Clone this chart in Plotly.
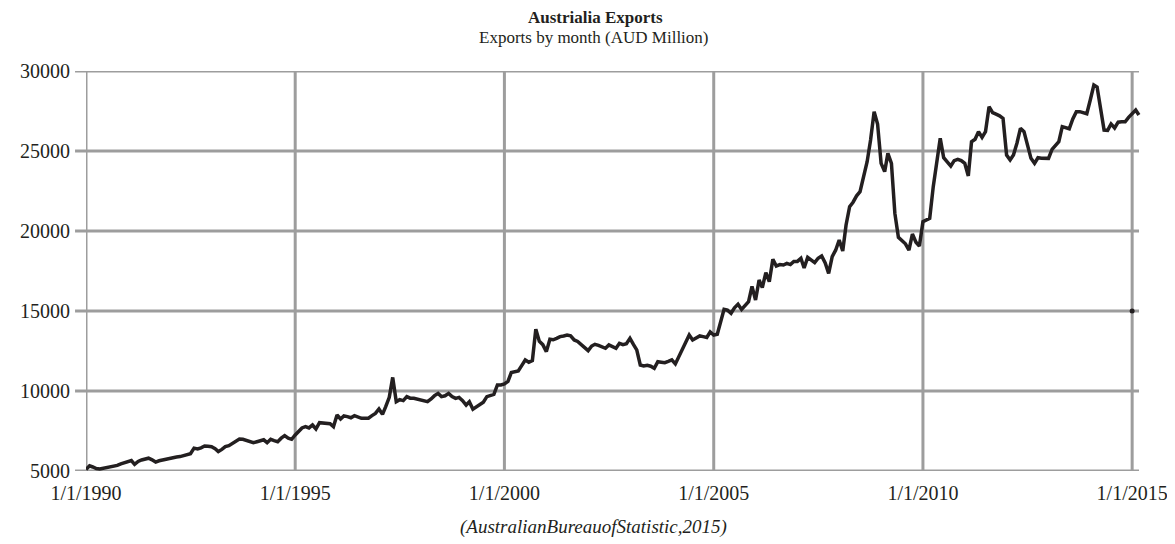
import plotly.graph_objects as go
import pandas as pd

# Monthly exports (AUD Million), Jan 1990 .. Mar 2015
y1990 = [5100, 5320, 5250, 5150, 5130, 5180, 5220, 5260, 5280, 5350, 5450, 5520]
y1991 = [5600, 5650, 5420, 5600, 5690, 5720, 5800, 5700, 5560, 5640, 5700, 5750]
y1992 = [5800, 5850, 5880, 5900, 5950, 6000, 6080, 6430, 6380, 6450, 6560, 6540]
y1993 = [6520, 6400, 6220, 6350, 6520, 6580, 6700, 6850, 7000, 6980, 6900, 6800]
y1994 = [6770, 6830, 6880, 6950, 6770, 6980, 6900, 6830, 7050, 7210, 7050, 6980]
y1995 = [7250, 7450, 7690, 7770, 7690, 7875, 7625, 8020, 8000, 7960, 7960, 7770]
y1996 = [8500, 8250, 8440, 8400, 8330, 8460, 8350, 8290, 8290, 8300, 8460, 8600]
y1997 = [8880, 8540, 9020, 9600, 10850, 9330, 9460, 9400, 9650, 9550, 9540, 9500]
y1998 = [9460, 9400, 9330, 9500, 9710, 9850, 9650, 9700, 9850, 9650, 9540, 9600]
y1999 = [9400, 9125, 9330, 8860, 9000, 9125, 9300, 9650, 9700, 9790, 10375, 10375]
y2000 = [10440, 10600, 11150, 11200, 11250, 11600, 11940, 11800, 11900, 13860, 13100, 12900]
y2001 = [12460, 13230, 13200, 13290, 13400, 13440, 13500, 13450, 13190, 13100, 12900, 12700]
y2002 = [12520, 12810, 12920, 12850, 12750, 12670, 12880, 12800, 12670, 12980, 12900, 12950]
y2003 = [13290, 12900, 12570, 11625, 11560, 11600, 11550, 11420, 11830, 11800, 11770, 11850]
y2004 = [11940, 11690, 12100, 12600, 12980, 13500, 13190, 13300, 13440, 13400, 13350, 13690]
y2005 = [13500, 13550, 14200, 15100, 15050, 14860, 15200, 15420, 15100, 15300, 15580, 16540]
y2006 = [15690, 16940, 16460, 17400, 16830, 18230, 17810, 17900, 17875, 17980, 17900, 18100]
y2007 = [18100, 18290, 17690, 18350, 18200, 18020, 18300, 18440, 18000, 17350, 18400, 18800]
y2008 = [19440, 18750, 20375, 21520, 21800, 22200, 22460, 23300, 24330, 25690, 27460, 26690]
y2009 = [24230, 23710, 24850, 24230, 21100, 19600, 19400, 19200, 18810, 19810, 19300, 19060]
y2010 = [20580, 20700, 20790, 22770, 24330, 25790, 24580, 24300, 24060, 24400, 24480, 24400]
y2011 = [24230, 23440, 25580, 25730, 26210, 25850, 26210, 27770, 27400, 27300, 27200, 27040]
y2012 = [24750, 24440, 24750, 25500, 26420, 26210, 25300, 24540, 24230, 24580, 24550, 24540]
y2013 = [24540, 25100, 25300, 25580, 26520, 26450, 26390, 27000, 27460, 27460, 27400, 27330]
y2014 = [28200, 29125, 29000, 27770, 26310, 26290, 26690, 26440, 26800, 26830, 26830, 27100]
y2015 = [27350, 27560, 27250]

exports = (y1990 + y1991 + y1992 + y1993 + y1994 + y1995 + y1996 + y1997 + y1998 + y1999 +
           y2000 + y2001 + y2002 + y2003 + y2004 + y2005 + y2006 + y2007 + y2008 + y2009 +
           y2010 + y2011 + y2012 + y2013 + y2014 + y2015)
months = pd.date_range("1990-01-01", periods=len(exports), freq="MS")

stray_x = ["2015-01-01"]
stray_y = [15000]

x_ticks = ["1990-01-01", "1995-01-01", "2000-01-01", "2005-01-01", "2010-01-01", "2015-01-01"]
x_labels = ["1/1/1990", "1/1/1995", "1/1/2000", "1/1/2005", "1/1/2010", "1/1/2015"]
y_ticks = [5000, 10000, 15000, 20000, 25000, 30000]
y_labels = ["5000", "10000", "15000", "20000", "25000", "30000"]

FONT = "Liberation Serif"
GRID = "#9d9d9d"
INK = "#231f20"

# page geometry (the page body adds an 8px offset)
OFF = 8
W, H = 1175, 544
L, R = 82, 1142     # page pixels of plot left/right
T, B = 71, 471      # page pixels of plot top/bottom
pw = R - L
ph = B - T

def px(xp):
    return (xp - L) / pw

def py(yp):
    return (B - yp) / ph

fig = go.Figure()
fig.add_trace(go.Scatter(x=months, y=exports, mode="lines",
                         line=dict(color=INK, width=3.5), showlegend=False,
                         cliponaxis=False))
fig.add_trace(go.Scatter(x=stray_x, y=stray_y, mode="markers",
                         marker=dict(color=INK, size=5), showlegend=False,
                         cliponaxis=False))

shapes = []
for v in y_ticks:
    shapes.append(dict(type="line", xref="paper", yref="y", x0=px(71), x1=px(1139),
                       y0=v, y1=v, line=dict(color=GRID, width=3), layer="below"))
for d in x_ticks:
    shapes.append(dict(type="line", xref="x", yref="paper", x0=d, x1=d,
                       y0=0, y1=1, line=dict(color=GRID, width=3), layer="below"))

annotations = [
    dict(text="<b>Austrialia Exports</b>", x=px(593), y=py(18), xref="paper", yref="paper",
         showarrow=False, xanchor="center", yanchor="middle",
         font=dict(family=FONT, size=17, color=INK)),
    dict(text="Exports by month (AUD Million)", x=px(592), y=py(38), xref="paper", yref="paper",
         showarrow=False, xanchor="center", yanchor="middle",
         font=dict(family=FONT, size=17, color=INK)),
    dict(text="<i>(AustralianBureauofStatistic,2015)</i>", x=px(591), y=py(527),
         xref="paper", yref="paper", showarrow=False, xanchor="center", yanchor="middle",
         font=dict(family=FONT, size=19, color=INK)),
]

fig.update_layout(
    width=W, height=H,
    margin=dict(l=L - OFF, r=W - (R - OFF), t=T - OFF, b=H - (B - OFF), pad=0),
    paper_bgcolor="white", plot_bgcolor="white",
    shapes=shapes, annotations=annotations,
    font=dict(family=FONT, size=20, color=INK),
    xaxis=dict(type="date", range=["1990-01-01", "2015-03-28"], tickvals=x_ticks,
               ticktext=x_labels, showgrid=False, zeroline=False, showline=False,
               ticks="", ticklabelstandoff=8, tickfont=dict(family=FONT, size=20, color=INK)),
    yaxis=dict(range=[5000, 30000], tickvals=y_ticks, ticktext=y_labels, showgrid=False,
               zeroline=False, showline=False, ticks="", ticklabelstandoff=15,
               tickfont=dict(family=FONT, size=20, color=INK)),
)

fig.write_html("out.html")
